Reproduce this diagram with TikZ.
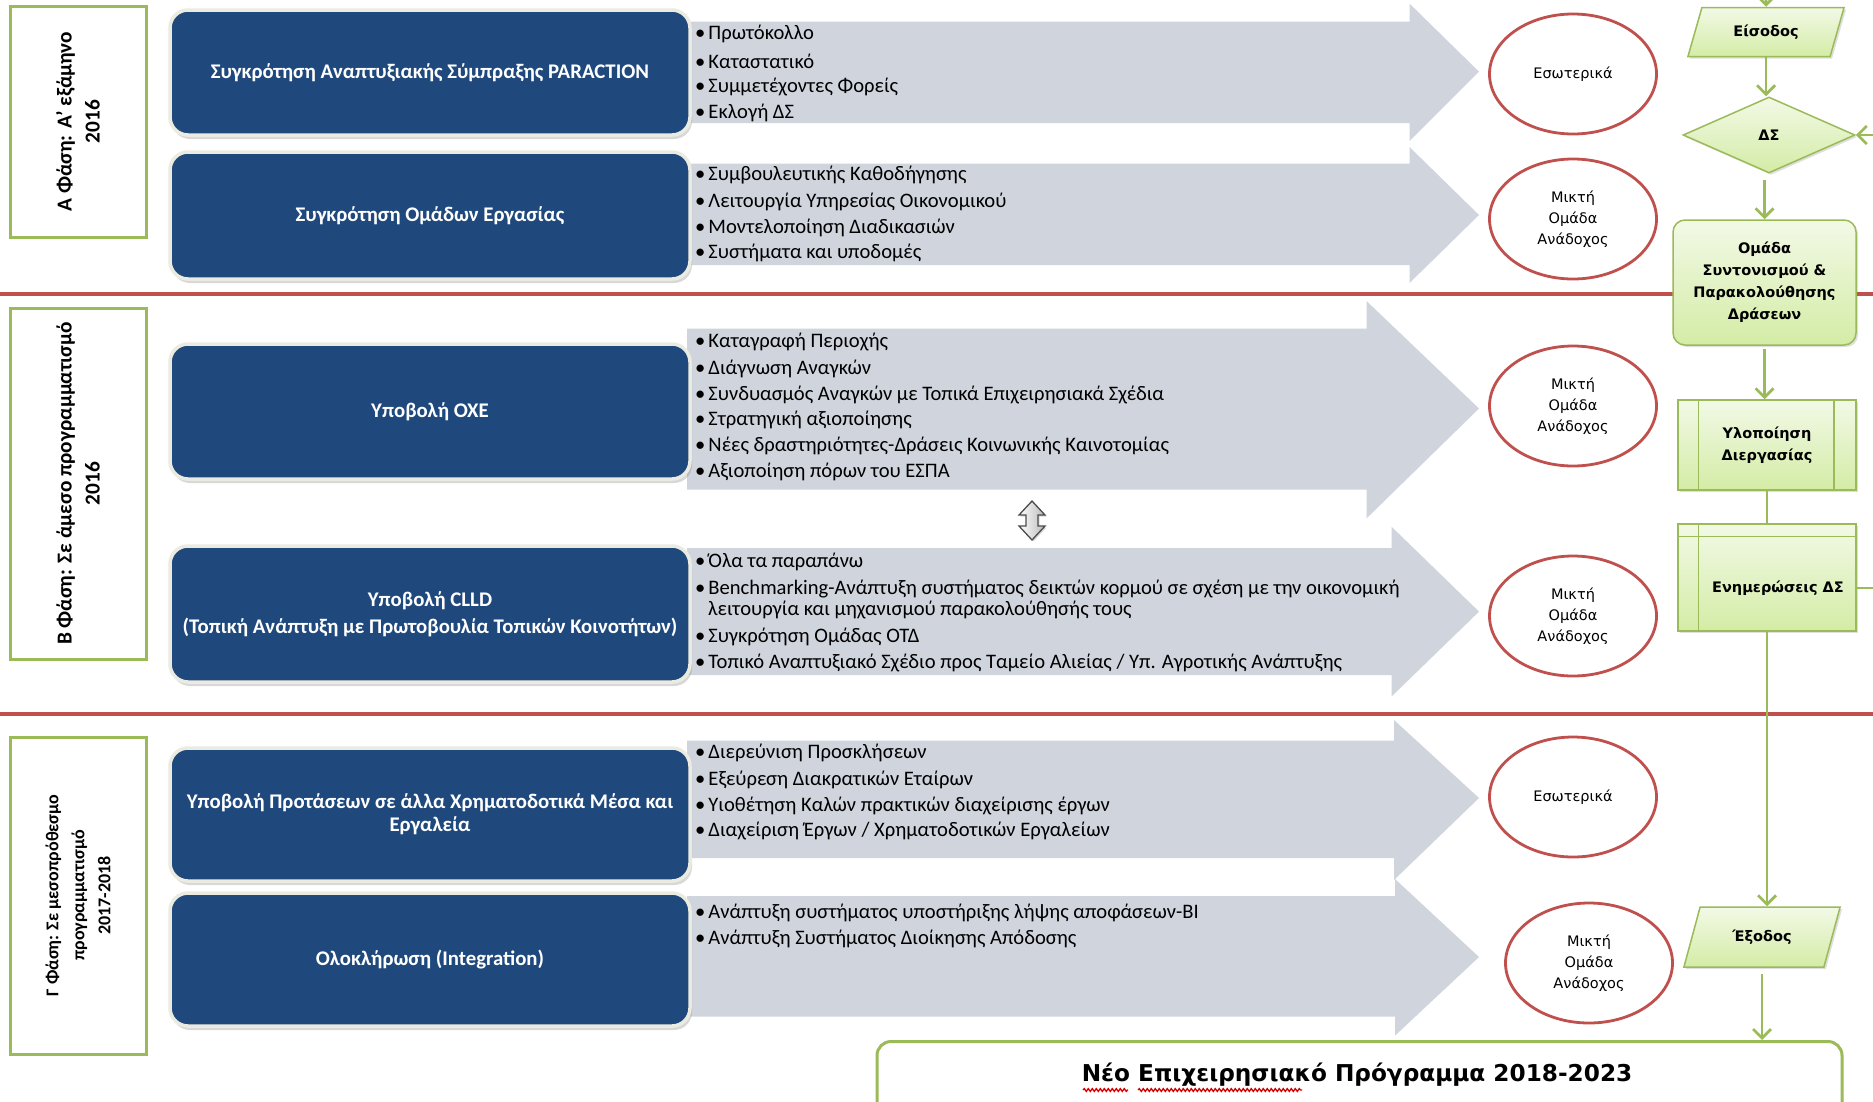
\documentclass[tikz,border=0pt]{standalone}
\usepackage{fontspec}
\setmainfont{Carlito}
\newfontfamily\dvs{DejaVu Sans}
\usetikzlibrary{shapes.geometric,shadows,arrows.meta,decorations.pathmorphing,calc}
\definecolor{boxblue}{RGB}{31,73,125}
\definecolor{halo}{RGB}{236,235,225}
\definecolor{arrowgray}{RGB}{208,212,221}
\definecolor{redline}{RGB}{192,80,77}
\definecolor{greenline}{RGB}{155,187,89}
\definecolor{greentop}{RGB}{242,249,230}
\definecolor{greenbot}{RGB}{212,236,166}
\newcommand\grayarr[6]{\fill[arrowgray] (687,#1) -- (#3,#1) -- (#3,#4) -- (1479,#6) -- (#3,#5) -- (#3,#2) -- (687,#2) -- cycle;}
\newcommand\bulline[3]{\node[bul] (#1) at (695,#2) {•\hspace{3pt}#3};}
\newcommand\btfont{\dvs\bfseries\fontsize{23.2}{27}\selectfont}
\begin{document}
\begin{tikzpicture}[x=1pt,y=-1pt,
  phasebox/.style={draw=greenline, line width=3pt, fill=white, rotate=90, align=center, inner sep=0pt, font=\bfseries\fontsize{21.3}{28}\selectfont},
  bluebox/.style={fill=boxblue, draw=halo, line width=3.5pt, rounded corners=18pt, minimum width=520pt, text=white, align=center, font=\bfseries\fontsize{20.8}{27}\selectfont, drop shadow={shadow xshift=2pt,shadow yshift=-4pt,opacity=0.3}},
  bul/.style={anchor=west, inner sep=0pt, font=\fontsize{20.6}{24}\selectfont},
  ell/.style={ellipse, draw=redline, line width=2.8pt, fill=white, minimum width=167pt, minimum height=120pt, inner sep=0pt, align=center, font=\dvs\fontsize{14.5}{21}\selectfont},
  flownode/.style={draw=greenline, line width=1.5pt, top color=greentop, bottom color=greenbot, font=\dvs\bfseries\fontsize{14.5}{22}\selectfont, align=center, inner sep=0pt, drop shadow={shadow xshift=2pt, shadow yshift=-2pt, opacity=0.25}},
  flowtext/.style={font=\dvs\bfseries\fontsize{14.5}{22}\selectfont, align=center, inner sep=0pt},
  innerline/.style={draw=greenline, line width=1.5pt},
  flowline/.style={draw=greenline, line width=2.8pt},
  flowarr/.style={flowline, -{Straight Barb[length=9pt,width=18pt]}},
  redsep/.style={draw=redline, line width=4pt},
  squig/.style={draw=red!85!black, line width=1.3pt, decorate, decoration={snake, segment length=4pt, amplitude=1.4pt}}
]
\useasboundingbox (0,0) rectangle (1873,1101);
\clip (0,0) rectangle (1873,1101);
\fill[white] (0,0) rectangle (1873,1101);

% separators
\draw[redsep] (0,294) -- (1873,294);
\draw[redsep] (0,714) -- (1873,714);

% phase boxes
\node[phasebox, minimum width=231pt, minimum height=136pt] (pa) at (78,121.5) {Α Φάση: Α’ εξάμηνο\\2016};
\node[phasebox, minimum width=351pt, minimum height=136pt] (pb) at (78,483.5) {Β Φάση: Σε άμεσο προγραμματισμό\\2016};
\node[phasebox, minimum width=317pt, minimum height=136pt, font=\bfseries\fontsize{18}{26}\selectfont] (pc) at (78,895.5) {Γ Φάση: Σε μεσοπρόθεσμο\\προγραμματισμό\\2017-2018};

% gray arrows
\grayarr{21.5}{123}{1409.5}{3.6}{141}{71.7}
\grayarr{163.6}{265}{1409.5}{147}{283}{215}
\grayarr{328.5}{489.7}{1366.5}{301}{518.4}{408.5}
\grayarr{548}{675}{1391.6}{526.8}{696.4}{611.6}
\grayarr{740.6}{858}{1394}{720}{880}{798}
\grayarr{896}{1016.5}{1395}{879}{1035.6}{957}

% blue boxes
\node[bluebox, minimum height=125pt] (b1) at (430,72.5) {Συγκρότηση Αναπτυξιακής Σύμπραξης PARACTION};
\node[bluebox, minimum height=127pt] (b2) at (430,215.5) {Συγκρότηση Ομάδων Εργασίας};
\node[bluebox, minimum height=135pt] (b3) at (430,411.5) {Υποβολή ΟΧΕ};
\node[bluebox, minimum height=136pt] (b4) at (430,614) {Υποβολή CLLD\\(Τοπική Ανάπτυξη με Πρωτοβουλία Τοπικών Κοινοτήτων)};
\node[bluebox, minimum height=133pt, font=\bfseries\fontsize{20.8}{23}\selectfont] (b5) at (430,814.5) {Υποβολή Προτάσεων σε άλλα Χρηματοδοτικά Μέσα και\\Εργαλεία};
\node[bluebox, minimum height=133pt] (b6) at (430,959.5) {Ολοκλήρωση (Integration)};

% bullet texts
\bulline{t11}{34}{Πρωτόκολλο}
\bulline{t12}{61}{Καταστατικό}
\bulline{t13}{87}{Συμμετέχοντες Φορείς}
\bulline{t14}{113}{Εκλογή ΔΣ}
\bulline{t21}{175}{Συμβουλευτικής Καθοδήγησης}
\bulline{t22}{202}{Λειτουργία Υπηρεσίας Οικονομικού}
\bulline{t23}{228}{Μοντελοποίηση Διαδικασιών}
\bulline{t24}{253}{Συστήματα και υποδομές}
\bulline{t31}{342}{Καταγραφή Περιοχής}
\bulline{t32}{369}{Διάγνωση Αναγκών}
\bulline{t33}{395}{Συνδυασμός Αναγκών με Τοπικά Επιχειρησιακά Σχέδια}
\bulline{t34}{420}{Στρατηγική αξιοποίησης}
\bulline{t35}{446}{Νέες δραστηριότητες-Δράσεις Κοινωνικής Καινοτομίας}
\bulline{t36}{472}{Αξιοποίηση πόρων του ΕΣΠΑ}
\bulline{t41}{562}{Όλα τα παραπάνω}
\bulline{t42}{589}{Benchmarking-Ανάπτυξη συστήματος δεικτών κορμού σε σχέση με την οικονομική}
\node[bul] (t42b) at (708,610) {λειτουργία και μηχανισμού παρακολούθησής τους};
\bulline{t43}{637}{Συγκρότηση Ομάδας ΟΤΔ}
\bulline{t44}{663}{Τοπικό Αναπτυξιακό Σχέδιο προς Ταμείο Αλιείας / Υπ. Αγροτικής Ανάπτυξης}
\bulline{t51}{753}{Διερεύνιση Προσκλήσεων}
\bulline{t52}{780}{Εξεύρεση Διακρατικών Εταίρων}
\bulline{t53}{806}{Υιοθέτηση Καλών πρακτικών διαχείρισης έργων}
\bulline{t54}{831}{Διαχείριση Έργων / Χρηματοδοτικών Εργαλείων}
\bulline{t61}{913}{Ανάπτυξη συστήματος υποστήριξης λήψης αποφάσεων-BI}
\bulline{t62}{939}{Ανάπτυξη Συστήματος Διοίκησης Απόδοσης}

% up-down arrow
\path[draw=gray!60!black, line width=1.3pt, left color=white, right color=gray!55, drop shadow={shadow xshift=1.5pt, shadow yshift=-1.5pt, opacity=0.3}]
  (1032,501) -- (1045,515) -- (1038,515) -- (1038,526) -- (1045,526) -- (1032,540) -- (1019,526) -- (1026,526) -- (1026,515) -- (1019,515) -- cycle;

% ellipses
\node[ell] (e1) at (1573,74) {Εσωτερικά};
\node[ell] (e2) at (1573,219) {Μικτή\\Ομάδα\\Ανάδοχος};
\node[ell] (e3) at (1573,406) {Μικτή\\Ομάδα\\Ανάδοχος};
\node[ell] (e4) at (1573,616) {Μικτή\\Ομάδα\\Ανάδοχος};
\node[ell] (e5) at (1573,797) {Εσωτερικά};
\node[ell] (e6) at (1589,963) {Μικτή\\Ομάδα\\Ανάδοχος};

% flowchart
\node[flownode, trapezium, trapezium left angle=64, trapezium right angle=116, trapezium stretches=true, minimum width=157pt, minimum height=49pt] (eis) at (1766,32) {Είσοδος};
\node[flownode, diamond, minimum width=172pt, minimum height=76pt] (ds) at (1769,135) {ΔΣ};
\node[flownode, rounded corners=12pt, minimum width=183pt, minimum height=125pt] (om) at (1764.5,282.5) {Ομάδα\\Συντονισμού \&\\Παρακολούθησης\\Δράσεων};
\node[flownode, minimum width=178pt, minimum height=90pt] (ylo) at (1767,445) {Υλοποίηση\\Διεργασίας};
\draw[innerline] ($(ylo.north west)+(21pt,0pt)$) -- ($(ylo.south west)+(21pt,0pt)$);
\draw[innerline] ($(ylo.north east)+(-23pt,0pt)$) -- ($(ylo.south east)+(-23pt,0pt)$);
\node[flownode, minimum width=178pt, minimum height=107pt] (enh) at (1767,577.5) {};
\draw[innerline] ($(enh.north west)+(0pt,-13pt)$) -- ($(enh.north east)+(0pt,-13pt)$);
\draw[innerline] ($(enh.north west)+(21pt,0pt)$) -- ($(enh.south west)+(21pt,0pt)$);
\node[flowtext] (enhtext) at ($(enh.center)+(11,10.5)$) {Ενημερώσεις ΔΣ};
\node[flownode, trapezium, trapezium left angle=62, trapezium right angle=118, trapezium stretches=true, minimum width=157pt, minimum height=60pt] (exo) at (1762,937) {Έξοδος};
\node[draw=greenline, line width=3pt, fill=white, rounded corners=14pt, minimum width=965pt, minimum height=100pt, anchor=north] (bot) at (1359.5,1040) {};
\node[font=\btfont, inner sep=0pt] (bt) at (1357,1075) {Νέο Επιχειρησιακό Πρόγραμμα 2018-2023};
% spell-check underlines
\draw[squig] (1083,1090) -- (1128,1090);
\draw[squig] (1138,1090) -- (1302,1090);

% connectors
\coordinate (topin) at (1766,-30);
\draw[flowarr] (topin) -- (eis.north);
\draw[flowarr] (eis.south) -- (eis.south |- ds.north);
\draw[flowarr, shorten <=6pt] (ds.south -| om.north) -- (om.north);
\draw[flowarr, shorten <=3pt] (om.south) -- (om.south |- ylo.north);
\draw[flowline] (ylo.south) -- (enh.north);
\draw[flowarr] (enh.south) -- (enh.south |- exo.north);
\draw[flowarr, shorten <=6pt] (exo.south) -- (exo.south |- bot.north);
\draw[flowarr] (enh.east |- enhtext) -- ++(40,0) |- (ds.east);
\end{tikzpicture}
\end{document}
